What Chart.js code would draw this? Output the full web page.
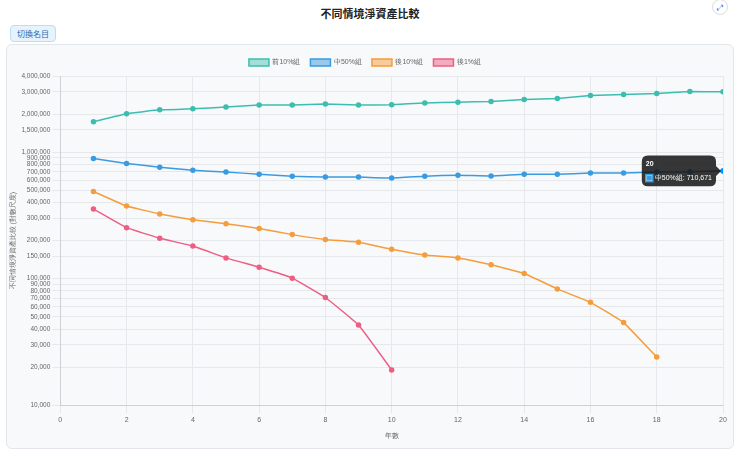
<!DOCTYPE html>
<html><head><meta charset="utf-8">
<script src="https://cdn.jsdelivr.net/npm/chart.js@4/dist/chart.umd.min.js"></script>
<style>
body{margin:0;font-family:"Noto Sans CJK TC","Noto Sans",sans-serif;background:#fff;width:740px;height:452px;position:relative;overflow:hidden}
h1{position:absolute;top:5px;left:0;width:740px;text-align:center;font-size:11px;font-weight:bold;margin:0;color:#222}
.btn{position:absolute;left:10px;top:25px;font-size:8px;padding:2px 6px;border:1px solid #bfdcf5;background:#e6f2fc;color:#2a6ab0;border-radius:4px}
.exp{position:absolute;right:12px;top:-1px;width:14px;height:14px;border:1px solid #ddd;border-radius:50%;font-size:8px;text-align:center;line-height:14px;color:#3b82f6}
.card{position:absolute;left:6px;top:44px;width:726px;height:403px;border:1px solid #e3e6ea;border-radius:6px;background:#f8f9fb}
canvas{display:block}
</style></head><body>
<h1>不同情境淨資產比較</h1>
<div class="btn">切換名目</div>
<div class="exp">⤢</div>
<div class="card"><canvas id="c" width="726" height="401" style="width:726px;height:401px"></canvas></div>
<script>
const years = [1,2,3,4,5,6,7,8,9,10,11,12,13,14,15,16,17,18,19,20];
const top10 = [1740000,2010000,2160000,2200000,2280000,2360000,2360000,2400000,2360000,2370000,2450000,2480000,2520000,2610000,2660000,2810000,2860000,2910000,3010000,3000000];
const mid50 = [891000,815000,760000,720000,696000,670000,646000,635000,635000,625000,646000,658000,648000,670000,670000,683000,683000,696000,700000,710671];
const bottom10 = [489000,375000,325000,292000,272000,249000,223000,204000,194000,171000,154000,146000,129000,110000,83000,65000,45000,24000];
const bottom1 = [355000,253000,209000,181000,146000,123000,101000,71000,43000,19000];
const yTicks = [10000,20000,30000,40000,50000,60000,70000,80000,90000,100000,150000,200000,300000,400000,500000,600000,700000,800000,900000,1000000,1500000,2000000,3000000,4000000];

function pts(arr){ return arr.map((v,i)=>({x:years[i],y:v})); }
function ds(label, arr, color, fill){
  return {label, data:pts(arr), borderColor:color, backgroundColor:fill, borderWidth:1.5, pointRadius:2, pointBackgroundColor:color, pointHoverRadius:2.5, tension:0.1};
}
const chart = new Chart(document.getElementById('c'), {
  type:'line',
  data:{datasets:[
    ds('前10%組', top10, '#3dbdb0', 'rgba(61,189,176,0.45)'),
    ds('中50%組', mid50, '#3a9be0', 'rgba(58,155,224,0.5)'),
    ds('後10%組', bottom10, '#f59d3d', 'rgba(245,157,61,0.5)'),
    ds('後1%組', bottom1, '#ee5e83', 'rgba(238,94,131,0.5)')
  ]},
  options:{
    responsive:false, animation:false, devicePixelRatio:1,
    layout:{padding:{top:4,right:10,left:0,bottom:2}},
    plugins:{
      legend:{labels:{boxWidth:20,boxHeight:7,font:{size:7},color:'#666'}},
      tooltip:{backgroundColor:'rgba(20,20,20,0.85)',titleFont:{size:7},bodyFont:{size:7},padding:4,boxWidth:7,boxHeight:7,
        callbacks:{label:c=>c.dataset.label+': '+c.parsed.y.toLocaleString('en-US')}}
    },
    scales:{
      x:{type:'linear',min:0,max:20,ticks:{stepSize:2,font:{size:7},color:'#666'},title:{display:true,text:'年數',font:{size:7},color:'#666'},grid:{color:'#e6e8eb'}},
      y:{type:'logarithmic',min:10000,max:4000000,
        afterBuildTicks:a=>{a.ticks=yTicks.map(v=>({value:v}));},
        ticks:{autoSkip:false,font:{size:6.5},color:'#666',padding:2,callback:v=>Number(v).toLocaleString('en-US')},
        title:{display:true,text:'不同情境淨資產比較 (對數尺度)',font:{size:7},color:'#666',padding:2},grid:{color:'#e6e8eb'}}
    }
  }
});
chart.setActiveElements([{datasetIndex:1,index:19}]);
chart.tooltip.setActiveElements([{datasetIndex:1,index:19}],{x:0,y:0});
chart.update();
</script>
</body></html>
